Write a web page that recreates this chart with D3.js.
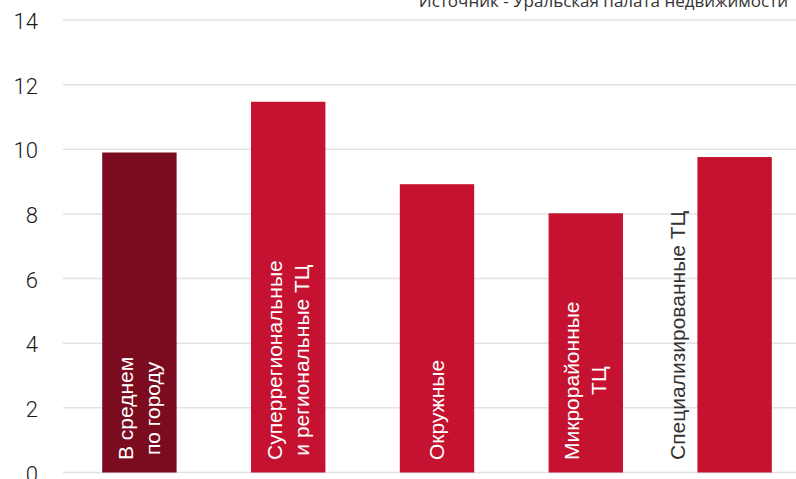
<!DOCTYPE html>
<html>
<head>
<meta charset="utf-8">
<script src="https://d3js.org/d3.v7.min.js"></script>
<style>
body { margin: 0; background: #fff; }
svg { display: block; }
.tick-label { font-family: Roboto, sans-serif; font-size: 22px; font-weight: 300; fill: #1a1a1a; }
.bar-label { font-family: "Liberation Sans", Arial, sans-serif; font-size: 21px; }
.source { font-family: "Open Sans", sans-serif; font-size: 17px; fill: #333; }
</style>
</head>
<body>
<script>
var width = 796;
var height = 479;

var categories = ["avg", "super", "okr", "micro", "spec"];
var values = [9.9, 11.47, 8.92, 8.02, 9.76];
var labelLines = [
    ["В среднем", "по городу"],
    ["Суперрегиональные", "и региональные ТЦ"],
    ["Окружные"],
    ["Микрорайонные", "ТЦ"],
    ["Специализированные  ТЦ"]
];
var yTicks = [0, 2, 4, 6, 8, 10, 12, 14];
var sourceText = "Источник - Уральская палата недвижимости";

var svg = d3.select("body")
    .append("svg")
    .attr("width", width)
    .attr("height", height);

var x = d3.scaleBand()
    .domain(categories)
    .range([65, 809])
    .paddingInner(0.5)
    .paddingOuter(0.25);

var y = d3.scaleLinear()
    .domain([0, 14])
    .range([472.5, 20]);

// grid lines
svg.append("g")
    .selectAll("line")
    .data(yTicks)
    .enter()
    .append("line")
    .attr("x1", 63)
    .attr("x2", width)
    .attr("y1", function(d) { return y(d); })
    .attr("y2", function(d) { return y(d); })
    .attr("stroke", "#e2e2e2")
    .attr("stroke-width", 1.5);

// y labels
svg.append("g")
    .selectAll("text")
    .data(yTicks)
    .enter()
    .append("text")
    .attr("class", "tick-label")
    .attr("x", 38)
    .attr("y", function(d) { return y(d) + 1.5; })
    .attr("dy", "0.35em")
    .attr("text-anchor", "end")
    .text(function(d) { return d; });

// bars
svg.append("g")
    .selectAll("rect")
    .data(values)
    .enter()
    .append("rect")
    .attr("x", function(d, i) { return x(categories[i]); })
    .attr("y", function(d) { return y(d); })
    .attr("width", x.bandwidth())
    .attr("height", function(d) { return y(0) - y(d); })
    .attr("fill", function(d, i) { return i == 0 ? "#7b0b1f" : "#c41230"; });

// bar labels, rotated
var lineGap = 27;
labelLines.forEach(function(lines, i) {
    var outside = (i == labelLines.length - 1);
    var cx = x(categories[i]) + x.bandwidth() / 2;
    var g = svg.append("g");
    var texts = g.selectAll("text")
        .data(lines)
        .enter()
        .append("text")
        .attr("class", "bar-label")
        .attr("text-anchor", "middle")
        .attr("fill", outside ? "#333" : "#fff")
        .text(function(d) { return d; });
    var maxLen = 0;
    texts.each(function() {
        maxLen = Math.max(maxLen, this.getComputedTextLength());
    });
    var cy = 460 - maxLen / 2;
    var base0;
    if (outside) {
        base0 = x(categories[i]) - 12 - cx;
    } else {
        base0 = 7 - (lines.length - 1) * lineGap / 2;
    }
    texts.attr("x", 0)
        .attr("y", function(d, j) { return base0 + j * lineGap; });
    g.attr("transform", "translate(" + cx + "," + cy + ") rotate(-90)");
});

svg.append("text")
    .attr("class", "source")
    .attr("x", 788)
    .attr("y", 7)
    .attr("text-anchor", "end")
    .text(sourceText);
</script>
</body>
</html>
